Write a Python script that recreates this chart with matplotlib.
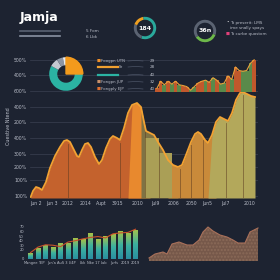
import numpy as np
import matplotlib
matplotlib.use("Agg")
import matplotlib.pyplot as plt
from matplotlib.patches import Wedge, Rectangle
from matplotlib.colors import LinearSegmentedColormap

W, H = 280, 280
BG = '#1d2331'
TXT = '#b9bdc8'

# main area curve (x position, level)
main_x = [30.7, 33, 36, 39, 42, 46, 50, 55, 60, 64, 67, 70, 74, 77, 79, 82, 85, 88, 91, 95,
          99, 102, 106, 110, 113, 117, 120, 124, 128, 132, 137, 141, 144, 146, 150, 154, 158,
          163, 168, 173, 178, 182, 186, 191, 195, 198, 201, 205, 208, 212, 216, 220, 224, 228,
          232, 236, 240, 243, 247, 251, 255]
main_y = [1, 7, 11, 10, 8, 16, 30, 42, 51, 57, 58, 56, 48, 42, 41, 48, 54, 55, 51, 41,
          34, 38, 50, 59, 62, 60, 58, 70, 85, 93, 95, 91, 76, 67, 65, 63, 56,
          48, 38, 33, 31, 33, 43, 56, 64, 66, 64, 58, 55, 63, 76, 81, 79, 77,
          85, 98, 105, 106, 104, 102, 101]
seg_edges = [30.7, 133, 145, 172, 213, 255]
seg_colors = ['#c4622d', '#e8892e', '#7f7244', '#c98a3a', '#b3a85b']
olive_bar_x = [145, 159]
olive_bar_w = [14, 13]
olive_bar_h = [60, 45]
divider_x = [68, 120, 145, 159, 180, 191, 203, 226, 243]
main_ytick_pos = [2, 18, 31, 44, 60, 76, 91, 107, 123, 138]
main_ytick_lab = ['100%', '100%', '200%', '300%', '400%', '200%', '400%', '600%', '400%', '500%']
main_xtick_pos = [36, 52, 68, 85, 101, 117, 138, 155, 174, 191, 207, 225, 250]
main_xtick_lab = ['Jun 2', 'Jun 3', '2012', '2014', 'Aupt', '3915', '2010', 'Jul9', '2006',
                  '2050', 'Jun5', 'Jul7', '2010']

# small donut
pie_vals = [25, 58, 8, 6, 3]
pie_cols = ['#f39a1c', '#2bb3a3', '#c6cad2', '#8d95a3', '#e9ebef']
legend_labels = ['Foogpn UTN', 'Sr', '', 'Fongpn JUP', 'Fongply EJP']
legend_nums = ['29', '28', '40', '32', '40']

# inset bars
inset_h = [10, 30, 20, 30, 22, 30, 20, 18, 15, 5, 15, 25, 30, 33, 27, 40, 33, 22, 25, 45,
           35, 70, 60, 58, 60, 80, 90]
inset_c = ['o', 'o', 'g', 'o', 'g', 'o', 'g', 'o', 'o', 'g', 'g', 'o', 'o', 'g', 'o', 'g',
           'o', 'g', 'g', 'o', 'g', 'o', 'o', 'g', 'g', 'g', 'o']

# bottom left bars
bl_vals = [13, 24, 31, 26, 34, 36, 45, 43, 56, 43, 50, 54, 61, 57, 64]
bl_line = [14, 26, 31, 30, 27, 37, 40, 44, 47, 49, 46, 55, 57, 58, 65]
bl_labels = ['Mangee', 'TEP', "Jun'a", 'AuS 3', 'L/4P', 'Lkk', 'Nke 17', 'Lab', 'Jurfs',
             '2019', '2019']

# bottom right area
br_x = [149, 155, 163, 167, 172, 179, 187, 193, 199, 203, 208, 213, 220, 227, 233, 238,
        245, 250, 258]
br_y = [3, 7, 9, 7, 17, 19, 16, 16, 21, 29, 34, 30, 26, 24, 21, 18, 18, 29, 33]

fig = plt.figure(figsize=(2.8, 2.8), dpi=100, facecolor=BG)


def px_axes(x0, y0, x1, y1):
    a = fig.add_axes([x0 / W, 1 - y1 / H, (x1 - x0) / W, (y1 - y0) / H])
    a.set_facecolor('none')
    return a


def ftext(x, y, s, **kw):
    fig.text(x / W, 1 - y / H, s, **kw)


# ---- header ----
ftext(20, 17, 'Jamja', color='white', fontsize=9, fontweight='bold', va='center')
fig.add_artist(plt.Line2D([20 / W, 60 / W], [1 - 31 / H] * 2, color='#5a6272', lw=1.2))
fig.add_artist(plt.Line2D([20 / W, 60 / W], [1 - 36 / H] * 2, color='#8a92a2', lw=1.2))
ftext(86, 31, '5 Fom', color=TXT, fontsize=3, va='center')
ftext(86, 37, '6 Lbk', color=TXT, fontsize=3, va='center')

g1 = px_axes(131, 14, 159, 42)
g1.pie([210, 90, 60], colors=['#2aa99c', '#5b6372', '#f0a020'], startangle=100,
       counterclock=False, wedgeprops=dict(width=0.26))
g1.text(0, 0, '184', color='white', fontsize=4.5, fontweight='bold', ha='center', va='center')

g2 = px_axes(191, 17, 219, 45)
g2.pie([125, 235], colors=['#6db84a', '#5b6372'], startangle=-20,
       counterclock=False, wedgeprops=dict(width=0.26))
g2.text(0, 0, '36n', color='white', fontsize=4.5, fontweight='bold', ha='center', va='center')

ftext(226, 23, '•', color='white', fontsize=3, va='center')
ftext(230, 23, 'To preserit: LMS', color=TXT, fontsize=3, va='center')
ftext(230, 28, 'ime snally spays', color=TXT, fontsize=3, va='center')
ftext(226, 34, '■', color='#e0407a', fontsize=3, va='center')
ftext(230, 34, 'To curbe quostom', color=TXT, fontsize=3, va='center')

# ---- main chart ----
ax = px_axes(30, 55, 258, 198)
mx = np.array(main_x)
my = np.array(main_y)
for i, c in enumerate(seg_colors):
    m = (mx >= seg_edges[i] - 4) & (mx <= seg_edges[i + 1] + 4)
    ax.fill_between(mx, 0, my, where=m, color=c, lw=0, interpolate=True)
ax.bar(olive_bar_x, olive_bar_h, width=olive_bar_w, align='edge', color='#aa9f56', lw=0)
for x in divider_x:
    ax.plot([x, x], [0, np.interp(x, mx, my) - 3], color='#5a3a20', lw=0.6, alpha=0.6)
ax.plot(mx, my, color='#f2a233', lw=1.3)
ax.set_xlim(30, 258)
ax.set_ylim(0, 143)
ax.set_yticks(main_ytick_pos)
ax.set_yticklabels(main_ytick_lab)
ax.set_xticks(main_xtick_pos)
ax.set_xticklabels(main_xtick_lab)
ax.tick_params(colors=TXT, labelsize=3.3, length=0, pad=2)
ax.grid(axis='y', color='#3a4152', lw=0.5)
for s in ax.spines.values():
    s.set_visible(False)
ax.set_ylabel('Cuestive Ntend', color=TXT, fontsize=3.5, labelpad=2)
ax.set_axisbelow(True)

# ---- donut ----
pa = px_axes(45, 53, 87, 95)
pa.pie(pie_vals, colors=pie_cols, startangle=90, counterclock=False,
       wedgeprops=dict(width=0.48))
frac = pie_vals[0] / sum(pie_vals)
pa.add_patch(Wedge((0, 0), 1, 90 - 360 * frac, 90, color=pie_cols[0]))

leg_y = [61, 67, 75, 82, 89]
leg_c = ['#f0902a', '#f0a030', '#2bb3a3', '#c8906a', '#e07030']
for i, yy in enumerate(leg_y):
    if i in (1, 2):
        fig.add_artist(plt.Line2D([98 / W, 118 / W], [1 - yy / H] * 2, color=leg_c[i], lw=1.6))
        ftext(119, yy, legend_labels[i], color=TXT, fontsize=2.8, va='center')
    else:
        ftext(97, yy, '■', color=leg_c[i], fontsize=3, va='center')
        ftext(101, yy, legend_labels[i], color=TXT, fontsize=2.8, va='center')
    fig.add_artist(plt.Line2D([128 / W, 136 / W, 143 / W],
                              [1 - yy / H, 1 - (yy - 0.6) / H, 1 - yy / H],
                              color='#4c5466', lw=0.5))
    ftext(152, yy, legend_nums[i], color=TXT, fontsize=3, va='center', ha='center')

# ---- inset bars ----
ia = px_axes(155, 58, 256, 92)
ix = np.arange(len(inset_h))
icol = ['#c1582c' if c == 'o' else '#5a8a4a' for c in inset_c]
ia.bar(ix, inset_h, width=1.0, color=icol, lw=0)
ia.plot(ix, inset_h, color='#eaa23a', lw=0.8)
ia.set_xlim(-0.5, len(inset_h) - 0.5)
ia.set_ylim(0, 95)
ia.axis('off')

# ---- bottom left bars ----
ba = px_axes(26, 226, 140, 259)
bx = np.arange(len(bl_vals))
cmap = LinearSegmentedColormap.from_list('tg', ['#2a8fa0', '#3bb0a0', '#a6c248'])
bars = ba.bar(bx, bl_vals, width=0.62, color='none', lw=0)
grad = np.linspace(0, 1, 64).reshape(-1, 1)
for b in bars:
    x0, w, h = b.get_x(), b.get_width(), b.get_height()
    im = ba.imshow(grad, extent=[x0, x0 + w, 0, h], origin='lower', aspect='auto', cmap=cmap)
    im.set_clip_path(b)
ba.plot(bx, bl_line, color='#c8502a', lw=0.8)
ba.set_xlim(-0.6, len(bl_vals) - 0.4)
ba.set_ylim(0, 72)
ba.set_yticks([0, 20, 30, 40, 50, 60, 70])
ba.set_xticks(np.linspace(0, len(bl_vals) - 1, len(bl_labels)))
ba.set_xticklabels(bl_labels)
ba.tick_params(colors=TXT, labelsize=2.6, length=0, pad=1.5)
for s in ba.spines.values():
    s.set_visible(False)

# ---- bottom right area ----
ra = px_axes(148, 222, 259, 261)
ra.fill_between(br_x, 0, br_y, color='#76584a', lw=0, hatch='.....', edgecolor='#8a6a58')
ra.plot(br_x, br_y, color='#a8705a', lw=0.8)
ra.set_xlim(148, 259)
ra.set_ylim(0, 39)
ra.axis('off')

fig.savefig('out.png', dpi=100, facecolor=BG)
